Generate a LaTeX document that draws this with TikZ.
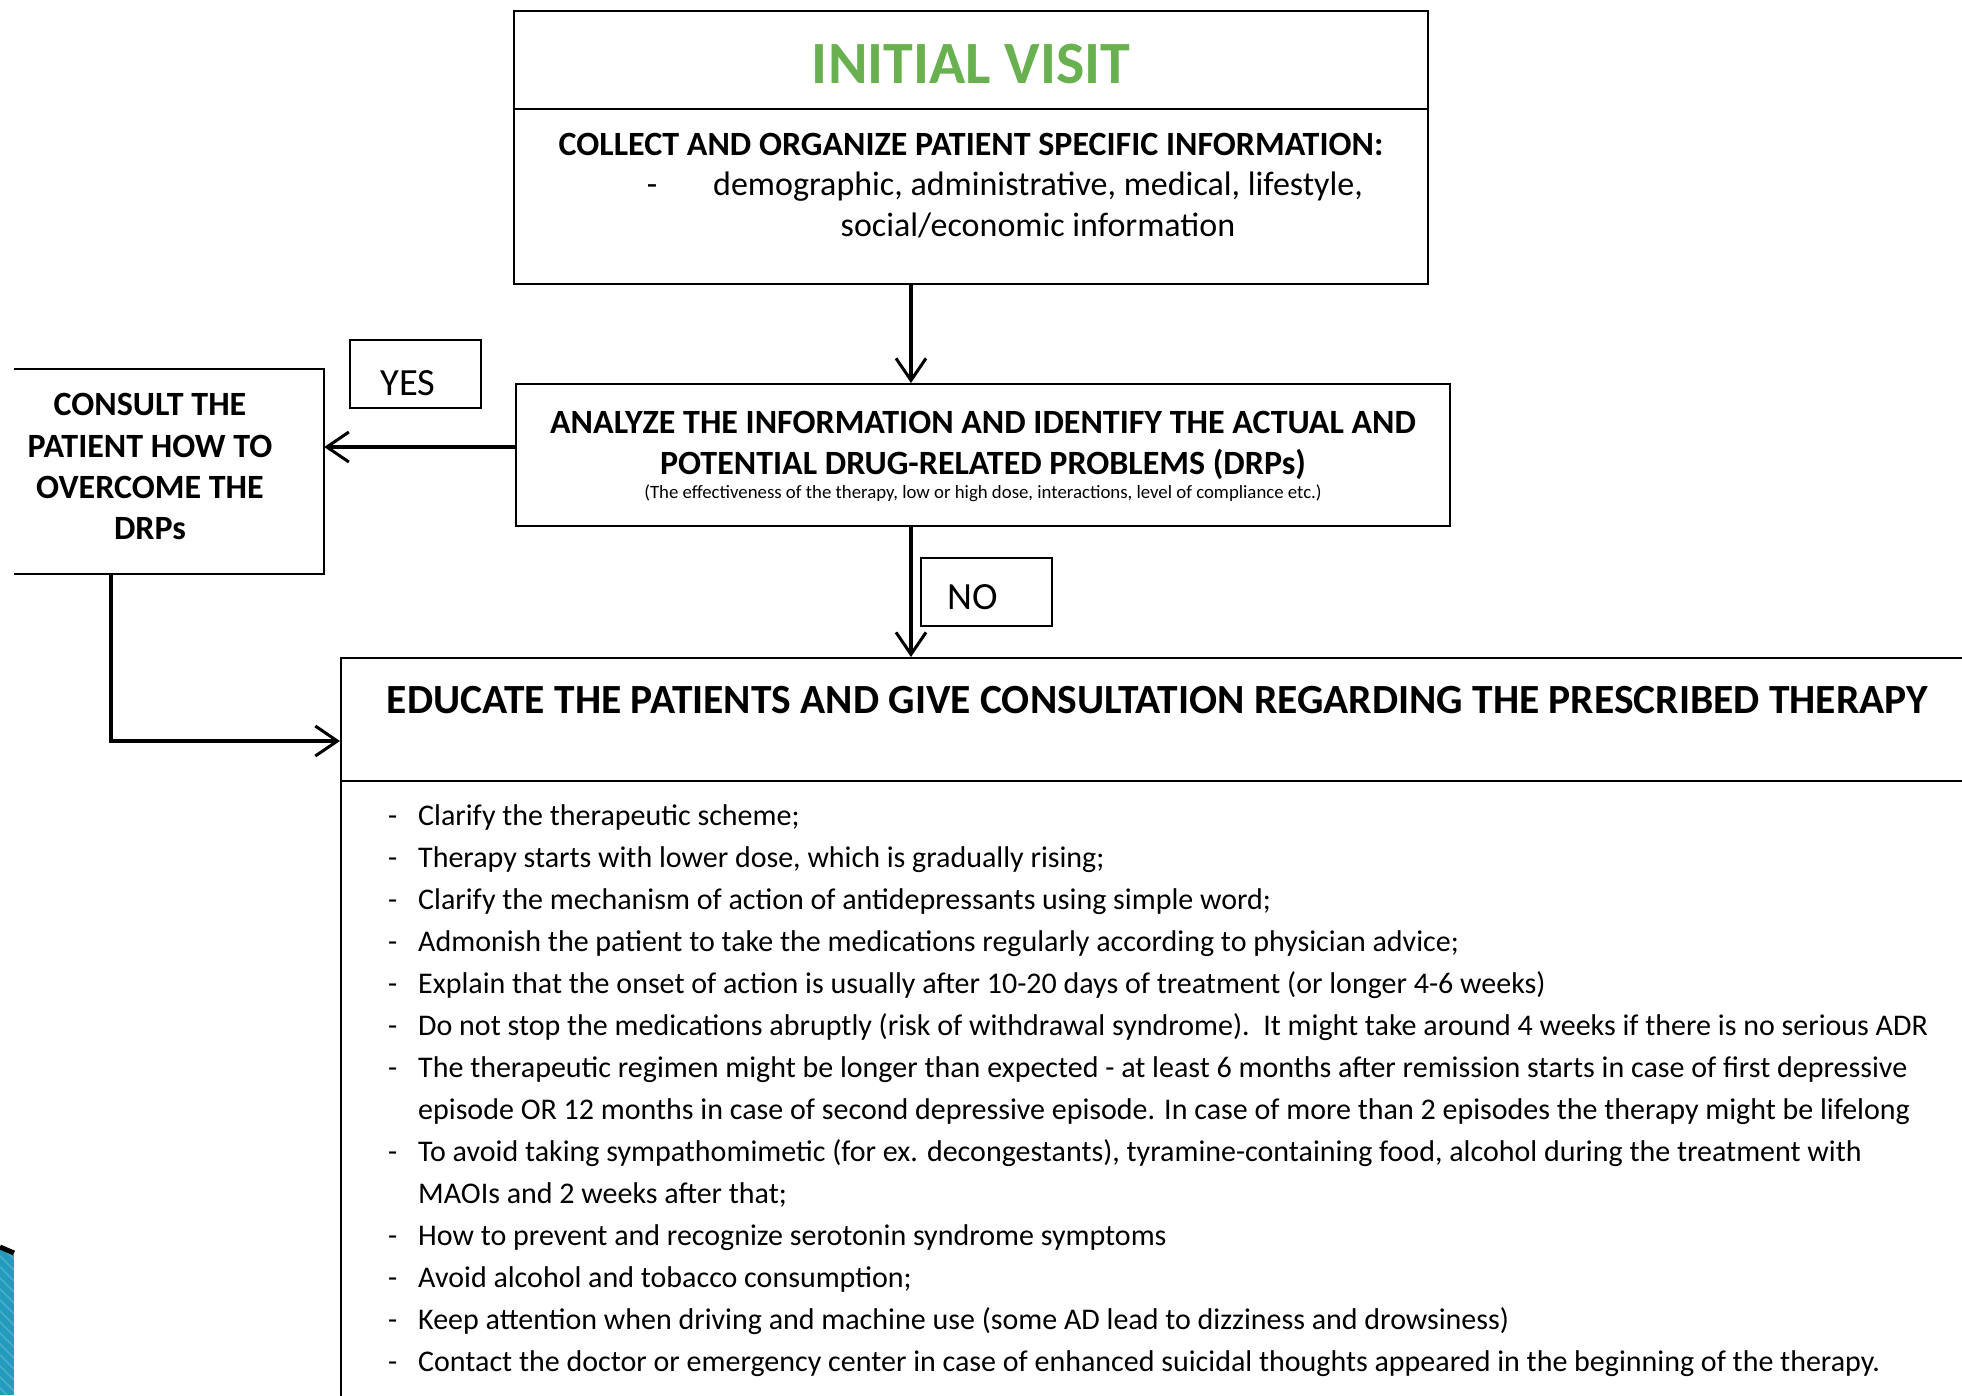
\documentclass[tikz,border=0pt]{standalone}
\usepackage{fontspec}
\setmainfont{Carlito}
\usetikzlibrary{arrows.meta}
\definecolor{ivgreen}{RGB}{104,176,80}
\definecolor{decoblue}{RGB}{35,155,188}
\begin{document}
\begin{tikzpicture}[x=1pt,y=-1pt,
  boxline/.style={draw=black,line width=2pt},
  conn/.style={line width=4pt,-{Straight Barb[length=22pt,width=30pt,line width=3pt]}},
  txt/.style={inner sep=0pt,anchor=base},
  hbold/.style={txt,font=\fontsize{34}{40}\selectfont\bfseries},
  reg/.style={txt,font=\fontsize{34}{40}\selectfont},
  lbl/.style={txt,font=\fontsize{38.5}{44}\selectfont}
]
\useasboundingbox (0,0) rectangle (1962,1395);
\clip (0,0) rectangle (1962,1395);

% decoration bottom-left
\begin{scope}
  \clip (0,1249) -- (14,1255) -- (14,1395) -- (0,1395) -- cycle;
  \fill[decoblue] (0,1240) rectangle (14,1395);
  \foreach \k in {0,...,14}
    \draw[white,opacity=0.18,line width=1.5pt] (-5,1240+\k*11) -- (20,1265+\k*11);
\end{scope}
\draw[line width=5pt] (0,1247) -- (14,1253);

% top box
\node[boxline,minimum width=914pt,minimum height=273pt,inner sep=0pt] (top) at (971,147.5) {};
\draw[boxline] (top.west |- 0,109) -- (top.east |- 0,109);
\node[txt,font=\fontsize{60}{70}\selectfont\bfseries,text=ivgreen] (tv) at (971,83) {INITIAL VISIT};
\node[hbold] (tc) at (971,155) {COLLECT AND ORGANIZE PATIENT SPECIFIC INFORMATION:};
\node[reg] (tdash) at (652,195) {-};
\node[reg] (td1) at (1038,195) {demographic, administrative, medical, lifestyle,};
\node[reg] (td2) at (1038,236) {social/economic information};

% analyze box
\node[boxline,minimum width=934pt,minimum height=142pt,inner sep=0pt] (ana) at (983,455) {};
\node[hbold] (ta1) at (983,433) {ANALYZE THE INFORMATION AND IDENTIFY THE ACTUAL AND};
\node[hbold] (ta2) at (983,474) {POTENTIAL DRUG-RELATED PROBLEMS (DRPs)};
\node[txt,font=\fontsize{18.8}{22}\selectfont] (ta3) at (983,498) {(The effectiveness of the therapy, low or high dose, interactions, level of compliance etc.)};

% consult box (no left edge)
\node[minimum width=310pt,minimum height=205pt,inner sep=0pt] (cons) at (169,471.5) {};
\draw[boxline] (cons.north west) -- (cons.north east) -- (cons.south east) -- (cons.south west);
\node[hbold] (tk1) at (150,415) {CONSULT THE};
\node[hbold] (tk2) at (150,457) {PATIENT HOW TO};
\node[hbold] (tk3) at (150,498) {OVERCOME THE};
\node[hbold] (tk4) at (150,539) {DRPs};

% YES / NO labels
\node[boxline,minimum width=131pt,minimum height=68pt,inner sep=0pt] (yes) at (415.5,374) {};
\node[lbl] (tyes) at (408,395) {YES};
\node[boxline,minimum width=131pt,minimum height=68pt,inner sep=0pt] (no) at (986.5,592) {};
\node[lbl] (tno) at (973,609) {NO};

% educate box (extends beyond the page)
\node[boxline,minimum width=1700pt,minimum height=800pt,inner sep=0pt,anchor=north west] (edu) at (340,657) {};
\draw[boxline] (edu.west |- 0,781) -- (edu.east |- 0,781);
\node[txt,font=\fontsize{41.5}{48}\selectfont\bfseries] (te) at (1157.5,713) {EDUCATE THE PATIENTS AND GIVE CONSULTATION REGARDING THE PRESCRIBED THERAPY};

\node[inner sep=0pt,anchor=base west,font=\fontsize{30}{42}\selectfont] (list) at (388,825) {%
\begin{tabular}[t]{@{}p{30pt}@{}l@{}}
-& Clarify the therapeutic scheme;\\
-& Therapy starts with lower dose, which is gradually rising;\\
-& Clarify the mechanism of action of antidepressants using simple word;\\
-& Admonish the patient to take the medications regularly according to physician advice;\\
-& Explain that the onset of action is usually after 10-20 days of treatment (or longer 4-6 weeks)\\
-& Do not stop the medications abruptly (risk of withdrawal syndrome).\ \ It might take around 4 weeks if there is no serious ADR\\
-& The therapeutic regimen might be longer than expected - at least 6 months after remission starts in case of first depressive\\
 & episode OR 12 months in case of second depressive episode. In case of more than 2 episodes the therapy might be lifelong\\
-& To avoid taking sympathomimetic (for ex. decongestants), tyramine-containing food, alcohol during the treatment with\\
 & MAOIs and 2 weeks after that;\\
-& How to prevent and recognize serotonin syndrome symptoms\\
-& Avoid alcohol and tobacco consumption;\\
-& Keep attention when driving and machine use (some AD lead to dizziness and drowsiness)\\
-& Contact the doctor or emergency center in case of enhanced suicidal thoughts appeared in the beginning of the therapy.
\end{tabular}};

% connectors
\coordinate (xa) at (911,0);
\coordinate (ya) at (0,447);
\coordinate (yb) at (0,741);
\coordinate (xb) at (111,0);
\draw[conn] (top.south -| xa) -- (ana.north -| xa);
\draw[conn] (ana.west |- ya) -- (cons.east |- ya);
\draw[conn] (ana.south -| xa) -- (edu.north -| xa);
\draw[conn] (cons.south -| xb) |- (edu.west |- yb);
\end{tikzpicture}
\end{document}
